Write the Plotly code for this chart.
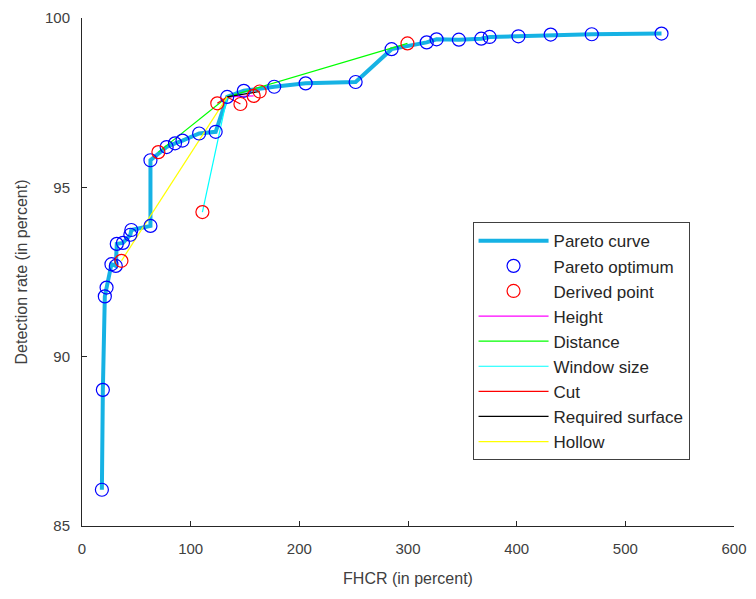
import plotly.graph_objects as go

# Pareto-optimal configurations (FHCR %, detection rate %)
pareto_x = [18.3, 19.2, 21.0, 22.6, 27.1, 31.1, 32.0, 37.7, 44.5, 45.4, 63.0, 63.0,
            77.9, 85.6, 92.5, 107.8, 123.0, 133.6, 148.9, 176.9, 205.8, 251.8,
            284.9, 317.2, 326.3, 346.8, 367.4, 375.1, 401.6, 431.3, 469.1, 533.3]
pareto_y = [86.07, 89.02, 91.78, 92.04, 92.73, 92.68, 93.33, 93.36, 93.60, 93.74, 93.86, 95.80,
            96.19, 96.30, 96.38, 96.59, 96.64, 97.67, 97.85, 97.97, 98.07, 98.11,
            99.08, 99.28, 99.37, 99.36, 99.39, 99.44, 99.46, 99.51, 99.52, 99.54]

# Points derived by varying a single parameter of a Pareto optimum
derived_x = [36.3, 70.3, 110.8, 124.5, 145.8, 158.0, 163.5, 299.5]
derived_y = [92.83, 96.04, 94.27, 97.48, 97.46, 97.70, 97.83, 99.25]

# Parameter variations: (pareto index, derived index) pairs
variations = {
    "Height": [(17, 5)],
    "Distance": [(17, 1), (17, 7)],
    "Window size": [(17, 2)],
    "Cut": [(17, 3), (17, 4)],
    "Required surface": [(17, 6)],
    "Hollow": [(17, 0)],
}
variation_colors = {
    "Height": "#ff00ff",
    "Distance": "#00ff00",
    "Window size": "#00ffff",
    "Cut": "#ff0000",
    "Required surface": "#000000",
    "Hollow": "#ffff00",
}

FONT = "Liberation Sans, Arial, sans-serif"
AXIS_COLOR = "#262626"
LABEL_COLOR = "#404040"

fig = go.Figure()

fig.add_trace(go.Scatter(
    x=pareto_x, y=pareto_y, mode="lines", name="Pareto curve",
    line=dict(color="#16b2e4", width=4), legendrank=1,
))

for rank, (name, pairs) in enumerate(variations.items(), start=4):
    xs, ys = [], []
    for pi, di in pairs:
        xs += [pareto_x[pi], derived_x[di], None]
        ys += [pareto_y[pi], derived_y[di], None]
    fig.add_trace(go.Scatter(
        x=xs, y=ys, mode="lines", name=name,
        line=dict(color=variation_colors[name], width=1.2), legendrank=rank,
    ))

fig.add_trace(go.Scatter(
    x=pareto_x, y=pareto_y, mode="markers", name="Pareto optimum",
    marker=dict(symbol="circle-open", size=13, color="#0000ff", line=dict(width=1.2)),
    legendrank=2,
))
fig.add_trace(go.Scatter(
    x=derived_x, y=derived_y, mode="markers", name="Derived point",
    marker=dict(symbol="circle-open", size=13, color="#ff0000", line=dict(width=1.2)),
    legendrank=3,
))

axis_common = dict(
    showgrid=False, zeroline=False, showline=True, linecolor=AXIS_COLOR, linewidth=1,
    ticks="inside", ticklen=5, tickcolor=AXIS_COLOR,
    tickfont=dict(family=FONT, size=15, color=LABEL_COLOR),
    mirror=False,
)

fig.update_layout(
    width=756, height=599,
    margin=dict(l=82, r=18, t=9, b=73),
    paper_bgcolor="white", plot_bgcolor="white",
    font=dict(family=FONT, color=AXIS_COLOR),
    xaxis=dict(range=[0, 600], tickvals=[0, 100, 200, 300, 400, 500, 600],
               ticklabelstandoff=9,
               title=dict(text="FHCR (in percent)", font=dict(family=FONT, size=16, color=LABEL_COLOR), standoff=16),
               **axis_common),
    yaxis=dict(range=[85, 100], tickvals=[85, 90, 95, 100],
               ticklabelstandoff=8,
               title=dict(text="Detection rate (in percent)", font=dict(family=FONT, size=16, color=LABEL_COLOR), standoff=13),
               **axis_common),
    legend=dict(
        x=0.599, y=0.598, xanchor="left", yanchor="top",
        bgcolor="white", bordercolor="#404040", borderwidth=1,
        font=dict(family=FONT, size=17, color="#262626"),
        tracegroupgap=0, itemwidth=70,
    ),
    showlegend=True,
)

fig.write_html("out.html")
